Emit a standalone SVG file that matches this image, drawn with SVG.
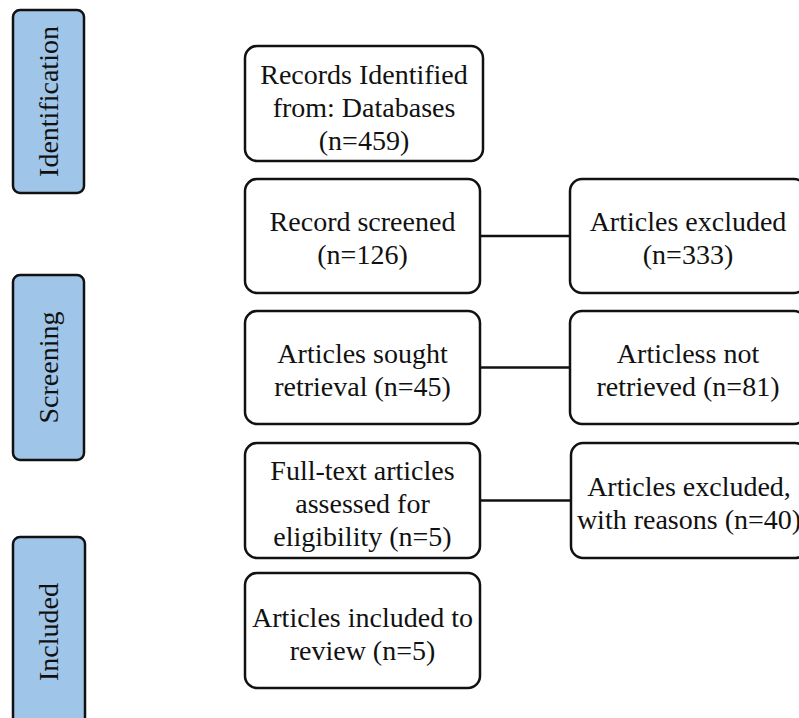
<svg xmlns="http://www.w3.org/2000/svg" width="799" height="718" viewBox="0 0 799 718">
<style>
.box{fill:#ffffff;stroke:#111111;stroke-width:2.5}
.side{fill:#9fc5e8;stroke:#111111;stroke-width:2.5}
.t{font-family:"Liberation Serif","Times New Roman",serif;font-size:28px;fill:#111111;text-anchor:middle}
.conn{stroke:#111111;stroke-width:2.5;fill:none}
</style>
<rect width="799" height="718" fill="#ffffff"/>
<g id="stage-identification">
<rect class="side" x="13" y="10" width="71" height="183" rx="7"/>
<text class="t" transform="translate(58,101.5) rotate(-90)">Identification</text>
</g>
<g id="stage-screening">
<rect class="side" x="13" y="275" width="71" height="185" rx="7"/>
<text class="t" transform="translate(58,367.5) rotate(-90)">Screening</text>
</g>
<g id="stage-included">
<rect class="side" x="13" y="537" width="72" height="200" rx="7"/>
<text class="t" transform="translate(58,632) rotate(-90)">Included</text>
</g>
<g id="connectors">
<line class="conn" x1="480" y1="236" x2="570" y2="236"/>
<line class="conn" x1="480" y1="367.5" x2="570" y2="367.5"/>
<line class="conn" x1="480" y1="500.5" x2="571" y2="500.5"/>
</g>
<g id="records-identified">
<rect class="box" x="245" y="46" width="238" height="115" rx="12"/>
<text class="t" x="364" y="84">Records Identified</text>
<text class="t" x="364" y="117">from: Databases</text>
<text class="t" x="364" y="150">(n=459)</text>
</g>
<g id="record-screened">
<rect class="box" x="245" y="179" width="235" height="114" rx="12"/>
<text class="t" x="362.5" y="231">Record screened</text>
<text class="t" x="362.5" y="264">(n=126)</text>
</g>
<g id="articles-excluded">
<rect class="box" x="570" y="179" width="236" height="114" rx="12"/>
<text class="t" x="688" y="231">Articles excluded</text>
<text class="t" x="688" y="264">(n=333)</text>
</g>
<g id="articles-sought">
<rect class="box" x="245" y="311" width="235" height="113" rx="12"/>
<text class="t" x="362.5" y="363">Articles sought</text>
<text class="t" x="362.5" y="396">retrieval (n=45)</text>
</g>
<g id="articles-not-retrieved">
<rect class="box" x="570" y="311" width="236" height="113" rx="12"/>
<text class="t" x="688" y="363">Articless not</text>
<text class="t" x="688" y="396">retrieved (n=81)</text>
</g>
<g id="full-text-assessed">
<rect class="box" x="245" y="443" width="235" height="115" rx="12"/>
<text class="t" x="362.5" y="480">Full-text articles</text>
<text class="t" x="362.5" y="513">assessed for</text>
<text class="t" x="362.5" y="546">eligibility (n=5)</text>
</g>
<g id="articles-excluded-reasons">
<rect class="box" x="571" y="443" width="236" height="115" rx="12"/>
<text class="t" x="689" y="496">Articles excluded,</text>
<text class="t" x="689" y="529">with reasons (n=40)</text>
</g>
<g id="articles-included">
<rect class="box" x="245" y="573" width="235" height="115" rx="12"/>
<text class="t" x="362.5" y="627">Articles included to</text>
<text class="t" x="362.5" y="660">review (n=5)</text>
</g>
</svg>
